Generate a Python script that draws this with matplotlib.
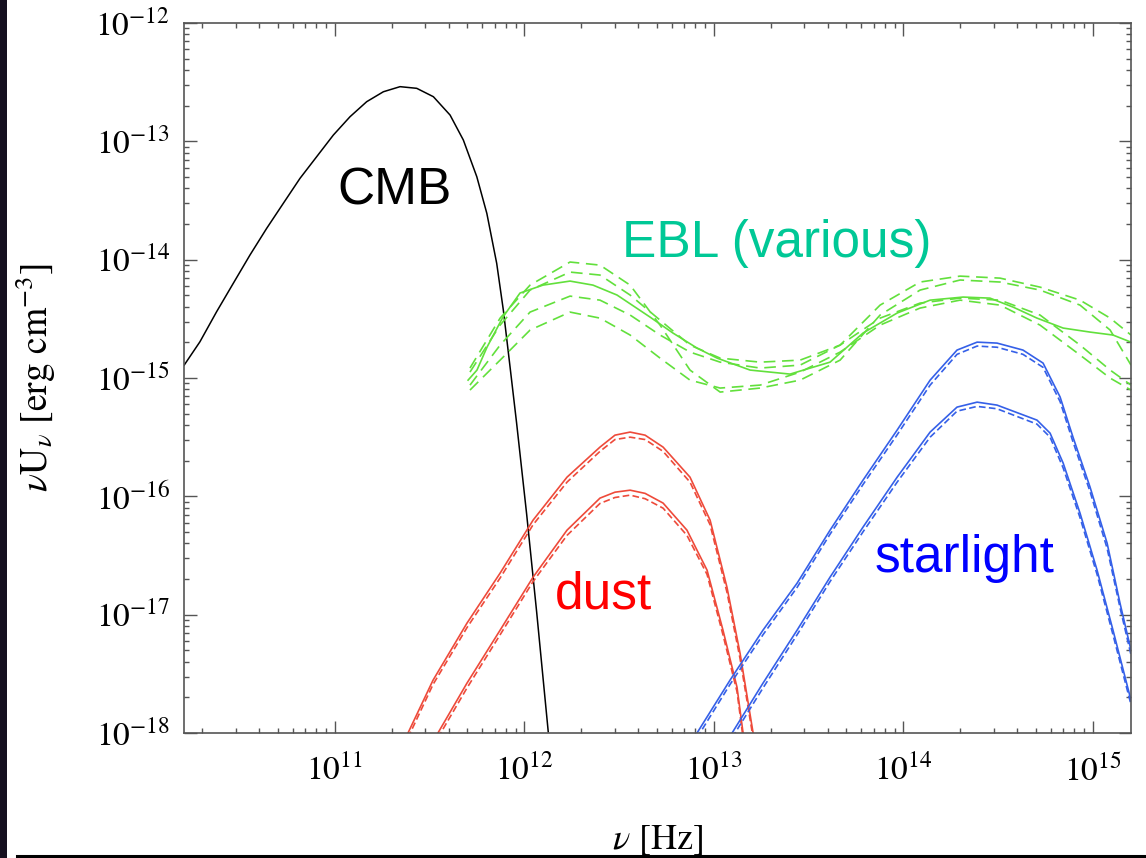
import numpy as np
import matplotlib
matplotlib.use("Agg")
import matplotlib.pyplot as plt
from matplotlib.ticker import LogLocator, NullFormatter, FixedLocator, LogFormatterSciNotation
from matplotlib.patches import Rectangle
from matplotlib.lines import Line2D

plt.rcParams['mathtext.fontset'] = 'stix'
plt.rcParams['font.family'] = 'serif'
plt.rcParams['font.serif'] = ['STIXGeneral', 'Liberation Serif', 'DejaVu Serif']

# ---- data (log10 nu [Hz], log10 nuU_nu [erg cm^-3]) ----
cmb_lognu = [10.206, 10.289, 10.377, 10.465, 10.553, 10.641, 10.729, 10.817, 10.905, 10.993,
             11.081, 11.169, 11.257, 11.345, 11.433, 11.521, 11.609, 11.679, 11.750, 11.803,
             11.855, 11.890, 11.925, 11.960, 12.013, 12.066, 12.127]
cmb_logu = [-14.891, -14.694, -14.440, -14.200, -13.961, -13.736, -13.524, -13.313, -13.130, -12.947,
            -12.792, -12.665, -12.581, -12.538, -12.552, -12.623, -12.778, -12.989, -13.299, -13.609,
            -14.031, -14.426, -14.900, -15.380, -16.150, -16.980, -17.990]

ebl_solid_lognu = [11.704, 11.751, 11.804, 11.888, 11.978, 12.099, 12.242, 12.363, 12.490,
                   12.664, 12.785, 12.912, 13.018, 13.192, 13.403, 13.614, 13.788, 13.968,
                   14.142, 14.316, 14.458, 14.580, 14.706, 14.844, 14.986, 15.107, 15.202]
ebl_solid_logu = [-15.018, -14.933, -14.739, -14.485, -14.282, -14.215, -14.181, -14.215, -14.299,
                  -14.485, -14.620, -14.747, -14.832, -14.933, -14.967, -14.866, -14.620, -14.451,
                  -14.342, -14.316, -14.325, -14.401, -14.494, -14.578, -14.612, -14.637, -14.697]

ebl_dash_lognu = [11.714, 11.873, 12.031, 12.242, 12.400, 12.559, 12.717, 12.875, 13.034, 13.245,
                  13.456, 13.667, 13.878, 14.089, 14.300, 14.511, 14.722, 14.933, 15.092, 15.202]
ebl_dash1_logu = [-14.916, -14.494, -14.215, -14.020, -14.046, -14.215, -14.553, -14.933, -15.119, -15.085,
                  -15.018, -14.849, -14.468, -14.257, -14.172, -14.189, -14.257, -14.384, -14.595, -14.891]
ebl_dash2_logu = [-14.950, -14.553, -14.257, -14.105, -14.130, -14.299, -14.511, -14.722, -14.832, -14.866,
                  -14.849, -14.722, -14.384, -14.189, -14.139, -14.156, -14.232, -14.342, -14.494, -14.637]
ebl_dash3_logu = [-15.060, -14.722, -14.443, -14.308, -14.342, -14.468, -14.637, -14.781, -14.866, -14.916,
                  -14.891, -14.722, -14.494, -14.367, -14.325, -14.342, -14.468, -14.722, -14.933, -15.060]
ebl_dash4_logu = [-15.102, -14.849, -14.595, -14.443, -14.494, -14.637, -14.832, -15.018, -15.085, -15.060,
                  -14.950, -14.781, -14.553, -14.409, -14.342, -14.384, -14.553, -14.806, -15.001, -15.102]

dust_hi_lognu = [11.387, 11.519, 11.698, 11.873, 12.047, 12.226, 12.400, 12.479, 12.559, 12.638,
                 12.733, 12.875, 12.981, 13.070, 13.139, 13.208]
dust_hi_logu = [-18.00, -17.554, -17.072, -16.649, -16.201, -15.838, -15.584, -15.483, -15.457, -15.483,
                -15.584, -15.838, -16.201, -16.768, -17.325, -18.00]
dust_hi_dash_logu = [-18.04, -17.59, -17.11, -16.69, -16.24, -15.88, -15.62, -15.52, -15.50, -15.52,
                     -15.62, -15.88, -16.24, -16.81, -17.37, -18.04]

dust_lo_lognu = [11.545, 11.698, 11.873, 12.047, 12.226, 12.400, 12.479, 12.559, 12.638, 12.733,
                 12.859, 12.965, 13.049, 13.123, 13.155]
dust_lo_logu = [-18.00, -17.579, -17.131, -16.683, -16.286, -16.015, -15.965, -15.948, -15.975, -16.057,
                -16.286, -16.624, -17.131, -17.613, -18.00]
dust_lo_dash_logu = [-18.04, -17.62, -17.17, -16.72, -16.33, -16.06, -16.01, -15.99, -16.02, -16.10,
                     -16.33, -16.66, -17.17, -17.65, -18.04]

star_hi_lognu = [12.912, 13.086, 13.260, 13.440, 13.614, 13.788, 13.968, 14.142, 14.284, 14.390,
                 14.495, 14.632, 14.738, 14.828, 14.896, 14.986, 15.076, 15.144, 15.202]
star_hi_logu = [-18.00, -17.554, -17.131, -16.734, -16.286, -15.863, -15.440, -15.018, -14.764, -14.697,
                -14.705, -14.764, -14.874, -15.161, -15.500, -15.922, -16.396, -16.903, -17.300]
star_hi_dash_logu = [-18.04, -17.59, -17.17, -16.77, -16.32, -15.90, -15.48, -15.06, -14.80, -14.73,
                     -14.74, -14.80, -14.91, -15.20, -15.54, -15.96, -16.44, -16.94, -17.34]

star_lo_lognu = [13.097, 13.260, 13.440, 13.614, 13.788, 13.968, 14.142, 14.284, 14.390, 14.495,
                 14.706, 14.775, 14.844, 14.933, 15.023, 15.107, 15.202]
star_lo_logu = [-18.00, -17.579, -17.131, -16.683, -16.260, -15.838, -15.457, -15.246, -15.204, -15.229,
                -15.356, -15.466, -15.719, -16.142, -16.624, -17.131, -17.723]
star_lo_dash_logu = [-18.04, -17.62, -17.17, -16.72, -16.30, -15.88, -15.50, -15.28, -15.24, -15.26,
                     -15.39, -15.50, -15.76, -16.18, -16.66, -17.17, -17.76]

x_range_log = [10.205, 15.202]
y_range_log = [-18, -12]
x_tick_decades = [11, 12, 13, 14, 15]
y_tick_decades = [-18, -17, -16, -15, -14, -13, -12]

# ---- styles ----
C_CMB = 'black'
C_EBL = '#62E03C'
C_DUST = '#EE4A3A'
C_STAR = '#3560E8'

def p(a):
    return np.power(10.0, np.asarray(a, dtype=float))

fig = plt.figure(figsize=(11.46, 8.58), dpi=100)
W, H = 1146, 858
ax = fig.add_axes([184 / W, 1 - 733 / H, (1131 - 184) / W, 710 / H])
ax.set_xscale('log')
ax.set_yscale('log')

ax.plot(p(cmb_lognu), p(cmb_logu), color=C_CMB, lw=1.1)

ax.plot(p(ebl_solid_lognu), p(ebl_solid_logu), color=C_EBL, lw=1.2)
for d in (ebl_dash1_logu, ebl_dash2_logu, ebl_dash3_logu, ebl_dash4_logu):
    ax.plot(p(ebl_dash_lognu), p(d), color=C_EBL, lw=1.2, ls=(0, (7, 4)))

ax.plot(p(dust_hi_lognu), p(dust_hi_logu), color=C_DUST, lw=1.2)
ax.plot(p(dust_hi_lognu), p(dust_hi_dash_logu), color=C_DUST, lw=1.2, ls=(0, (4, 2)))
ax.plot(p(dust_lo_lognu), p(dust_lo_logu), color=C_DUST, lw=1.2)
ax.plot(p(dust_lo_lognu), p(dust_lo_dash_logu), color=C_DUST, lw=1.2, ls=(0, (4, 2)))

ax.plot(p(star_hi_lognu), p(star_hi_logu), color=C_STAR, lw=1.2)
ax.plot(p(star_hi_lognu), p(star_hi_dash_logu), color=C_STAR, lw=1.2, ls=(0, (4, 2)))
ax.plot(p(star_lo_lognu), p(star_lo_logu), color=C_STAR, lw=1.2)
ax.plot(p(star_lo_lognu), p(star_lo_dash_logu), color=C_STAR, lw=1.2, ls=(0, (4, 2)))

ax.set_xlim(p(x_range_log[0]), p(x_range_log[1]))
ax.set_ylim(p(y_range_log[0]), p(y_range_log[1]))

ax.xaxis.set_major_locator(FixedLocator(p(x_tick_decades)))
ax.yaxis.set_major_locator(FixedLocator(p(y_tick_decades)))
ax.xaxis.set_major_formatter(LogFormatterSciNotation())
ax.yaxis.set_major_formatter(LogFormatterSciNotation())
ax.xaxis.set_minor_locator(LogLocator(base=10, subs=np.arange(2, 10), numticks=100))
ax.yaxis.set_minor_locator(LogLocator(base=10, subs=np.arange(2, 10), numticks=100))
ax.xaxis.set_minor_formatter(NullFormatter())
ax.yaxis.set_minor_formatter(NullFormatter())

spine_c = '#555555'
for s in ax.spines.values():
    s.set_color(spine_c)
    s.set_linewidth(1.2)
ax.tick_params(which='both', direction='in', top=True, right=True, colors=spine_c,
               labelcolor='black', labelsize=24, width=1.0)
ax.tick_params(which='major', length=9)
ax.tick_params(which='minor', length=3.5)
ax.tick_params(axis='x', which='major', pad=16)
ax.tick_params(axis='y', which='major', pad=10)

ax.set_xlabel(r'$\nu$ [Hz]', fontsize=26)
ax.xaxis.set_label_coords(0.5, -0.128)
ax.set_ylabel(r'$\nu\mathrm{U}_\nu$ [erg cm$^{-3}$]', fontsize=27)
ax.yaxis.set_label_coords(-0.133, 0.5)

lab_font = dict(family='Liberation Sans', fontsize=37)
ax.text(p(11.012), p(-13.538), 'CMB', color='black', ha='left', va='baseline', **lab_font)
ax.text(p(12.516), p(-13.978), 'EBL (various)', color='#00C896', ha='left', va='baseline', **lab_font)
ax.text(p(12.163), p(-16.945), 'dust', color='#FF0000', ha='left', va='baseline', **lab_font)
ax.text(p(13.851), p(-16.641), 'starlight', color='#0000FF', ha='left', va='baseline', **lab_font)

# decorations: dark strip on left, bottom rule
fig.patches.append(Rectangle((0, 0), 7 / W, 1, transform=fig.transFigure,
                             facecolor='#15101f', edgecolor='none', zorder=-1))
fig.lines.append(Line2D([17 / W, 1], [1 - 855.5 / H, 1 - 855.5 / H], transform=fig.transFigure,
                        color='black', lw=2.2))

fig.savefig('out.png', dpi=100)
